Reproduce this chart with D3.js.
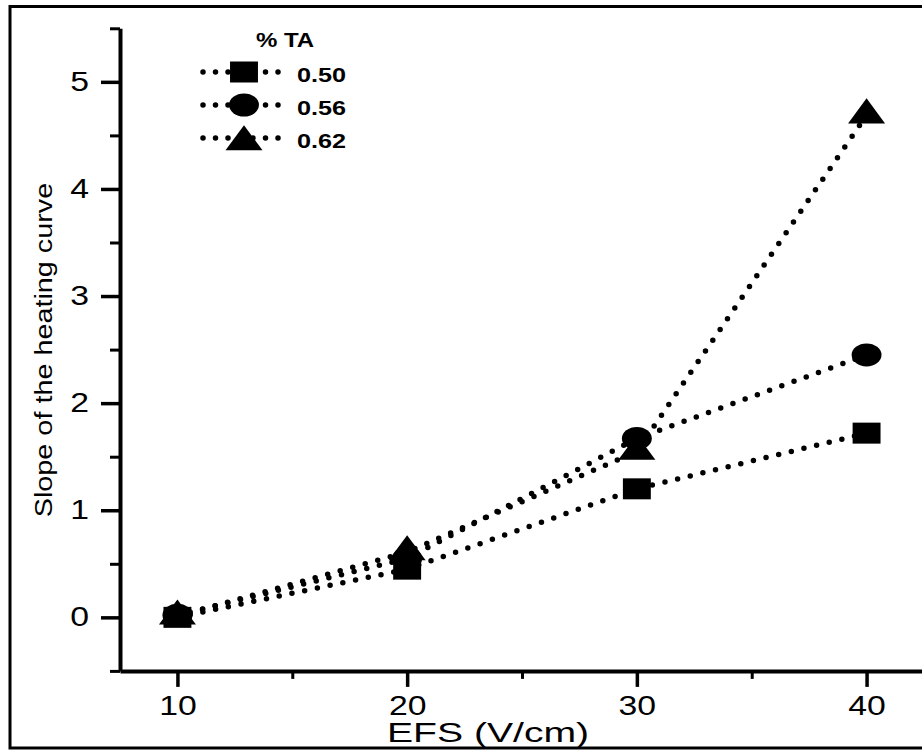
<!DOCTYPE html>
<html>
<head>
<meta charset="utf-8">
<script src="https://cdn.jsdelivr.net/npm/d3@7"></script>
<style>
  body { margin: 0; background: #fff; }
  text { font-family: "Liberation Sans", Arial, sans-serif; fill: #000; }
</style>
</head>
<body>
<div id="chart"></div>
<script>
const efs = [10, 20, 30, 40];
const seriesNames = ["0.50", "0.56", "0.62"];
const slope050 = [0.0, 0.45, 1.20, 1.72];
const slope056 = [0.02, 0.55, 1.67, 2.45];
const slope062 = [0.01, 0.61, 1.55, 4.69];
const xTicks = [10, 20, 30, 40];
const yTicks = [0, 1, 2, 3, 4, 5];

const width = 922;
const height = 751;

const svg = d3.select("#chart")
    .append("svg")
    .attr("width", width)
    .attr("height", height);

svg.append("rect")
    .attr("width", width)
    .attr("height", height)
    .attr("fill", "#fff");

// outer frame, right side runs off the picture
svg.append("rect")
    .attr("x", 10)
    .attr("y", 6.5)
    .attr("width", 940)
    .attr("height", 741.5)
    .attr("fill", "none")
    .attr("stroke", "#000")
    .attr("stroke-width", 3);

const x = d3.scaleLinear().domain([7.5, 42.5]).range([120, 924]);
const y = d3.scaleLinear().domain([-0.5, 5.5]).range([670.9, 28.3]);

const stretch = 1.25;

// minor ticks first
svg.append("g")
    .attr("transform", `translate(120,0)`)
    .call(d3.axisLeft(y).tickValues(d3.range(-0.5, 5.6, 1)).tickSize(10).tickFormat(""))
    .call(g => g.select(".domain").remove())
    .call(g => g.selectAll("line").attr("stroke-width", 3));

svg.append("g")
    .attr("transform", `translate(0,670.9)`)
    .call(d3.axisBottom(x).tickValues([15, 25, 35]).tickSize(8).tickFormat(""))
    .call(g => g.select(".domain").remove())
    .call(g => g.selectAll("line").attr("stroke-width", 3));

const yAxis = svg.append("g")
    .attr("transform", `translate(120,0)`)
    .call(d3.axisLeft(y).tickValues(yTicks).tickSize(19).tickSizeOuter(0).tickPadding(12).tickFormat(d3.format("d")));

const xAxis = svg.append("g")
    .attr("transform", `translate(0,670.9)`)
    .call(d3.axisBottom(x).tickValues(xTicks).tickSize(16).tickSizeOuter(0).tickPadding(9).tickFormat(d3.format("d")));

[yAxis, xAxis].forEach(a => {
    a.select(".domain").attr("stroke-width", 4);
    a.selectAll("line").attr("stroke-width", 3.5);
    a.selectAll("text")
        .attr("font-family", "Liberation Sans, Arial, sans-serif")
        .attr("font-size", 27)
        .attr("transform", `scale(${stretch},1)`);
});
yAxis.selectAll("text").attr("x", -31 / stretch);

svg.append("text")
    .attr("transform", `translate(52,350) rotate(-90) scale(1.2,1)`)
    .attr("text-anchor", "middle")
    .attr("font-size", 24)
    .text("Slope of the heating curve");

svg.append("text")
    .attr("transform", `translate(488,742) scale(1.45,1)`)
    .attr("text-anchor", "middle")
    .attr("font-size", 27)
    .text("EFS (V/cm)");

const symbols = [d3.symbolSquare, d3.symbolCircle, d3.symbolTriangle];
const symbolSizes = [21 * 21, Math.PI * 11.5 * 11.5, 28.9 * 28.9 * Math.sqrt(3) / 4];
const symbolStretch = [1.33, 1.3, 1.28];
const series = [slope050, slope056, slope062];

const line = d3.line()
    .x((d, i) => x(efs[i]))
    .y(d => y(d));

const dotted = sel => sel
    .attr("fill", "none")
    .attr("stroke", "#000")
    .attr("stroke-width", 5.5)
    .attr("stroke-linecap", "round")
    .attr("stroke-dasharray", "0,13");

series.forEach((vals, s) => {
    svg.append("path")
        .attr("d", line(vals))
        .call(dotted);
});

series.forEach((vals, s) => {
    svg.append("g")
        .selectAll("path")
        .data(vals)
        .join("path")
        .attr("d", d3.symbol().type(symbols[s]).size(symbolSizes[s]))
        .attr("transform", (d, i) => `translate(${x(efs[i])},${y(d)}) scale(${symbolStretch[s]},1)`)
        .attr("fill", "#000");
});

// legend
const legend = svg.append("g");
legend.append("text")
    .attr("transform", `translate(285,47) scale(1.2,1)`)
    .attr("text-anchor", "middle")
    .attr("font-weight", "bold")
    .attr("font-size", 20)
    .text("% TA");

seriesNames.forEach((name, s) => {
    const ry = 72 + s * 33;
    legend.append("path")
        .attr("d", `M203,${ry}H286`)
        .call(dotted)
        .attr("stroke-dasharray", "0,12.5");
    legend.append("path")
        .attr("d", d3.symbol().type(symbols[s]).size(symbolSizes[s]))
        .attr("transform", `translate(244,${ry + (s === 2 ? 4 : 0)}) scale(${symbolStretch[s]},1)`)
        .attr("fill", "#000");
    legend.append("text")
        .attr("transform", `translate(297,${ry + 10}) scale(1.2,1)`)
        .attr("font-weight", "bold")
        .attr("font-size", 21)
        .text(name);
});
</script>
</body>
</html>
